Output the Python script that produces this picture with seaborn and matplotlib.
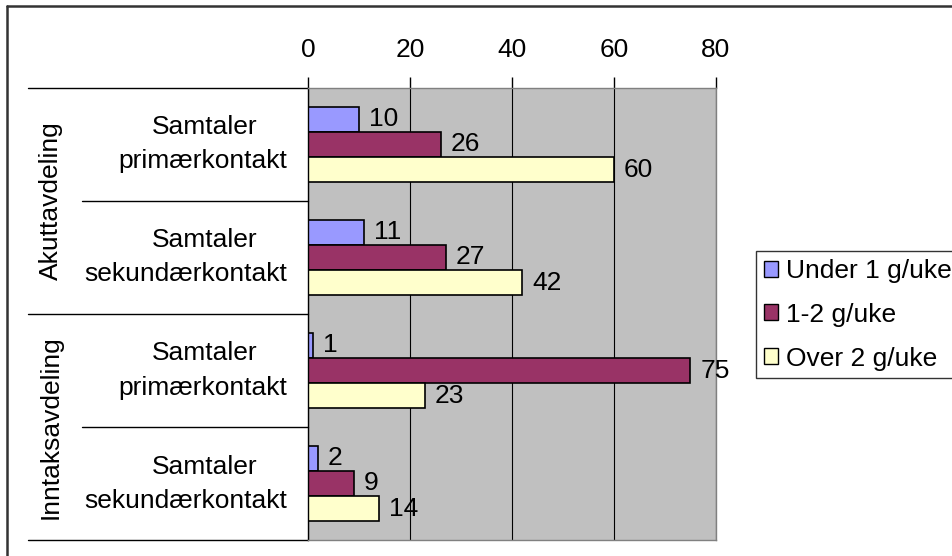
import matplotlib
matplotlib.use("Agg")
import matplotlib.pyplot as plt
import matplotlib.transforms as mtransforms
from matplotlib.patches import Patch
from matplotlib.lines import Line2D
import pandas as pd
import seaborn as sns

# data
groups = ["Akuttavdeling", "Inntaksavdeling"]
categories = ["Samtaler\nprimærkontakt", "Samtaler\nsekundærkontakt",
              "Samtaler\nprimærkontakt", "Samtaler\nsekundærkontakt"]
series = ["Under 1 g/uke", "1-2 g/uke", "Over 2 g/uke"]
under_1 = [10, 11, 1, 2]
one_two = [26, 27, 75, 9]
over_2 = [60, 42, 23, 14]
x_ticks = [0, 20, 40, 60, 80]

colors = ["#9999FF", "#993366", "#FFFFCC"]

keys = [f"{i}" for i in range(len(categories))]
rows = []
for name, vals in zip(series, [under_1, one_two, over_2]):
    for k, v in zip(keys, vals):
        rows.append({"cat": k, "serie": name, "value": v})
df = pd.DataFrame(rows)

sns.set_style("white")
plt.rcParams["font.family"] = ["Liberation Sans", "DejaVu Sans"]
plt.rcParams["text.color"] = "black"
plt.rcParams["xtick.color"] = "black"
plt.rcParams["xtick.labelcolor"] = "black"
FS = 19

W, H = 953, 556
fig = plt.figure(figsize=(W / 100, H / 100), dpi=100)
ax = fig.add_axes([308 / W, 1 - 540 / H, (716 - 308) / W, (540 - 88) / H])

sns.barplot(data=df, y="cat", x="value", hue="serie", order=keys,
            hue_order=series, palette=colors, orient="h", width=0.67,
            gap=0, edgecolor="black", linewidth=1.2, saturation=1,
            legend=False, ax=ax)

ax.set_facecolor("#C0C0C0")
ax.set_xlim(0, 80)
ax.set_ylim(len(keys) - 0.5, -0.5)
ax.set_xticks(x_ticks)
ax.xaxis.tick_top()
ax.tick_params(axis="x", direction="out", length=8, width=1, color="black",
               labelsize=FS, pad=11)
ax.set_yticks([])
ax.set_xlabel("")
ax.set_ylabel("")
ax.grid(axis="x", color="black", linewidth=0.8)
ax.set_axisbelow(True)
for s in ["top", "right", "bottom"]:
    ax.spines[s].set_color("#808080")
    ax.spines[s].set_linewidth(1)
ax.spines["left"].set_color("black")
ax.spines["left"].set_linewidth(1)

for c in ax.containers:
    ax.bar_label(c, padding=7, fontsize=FS, color="black")

# category axis labels and separators
trans = mtransforms.blended_transform_factory(fig.transFigure, ax.transData)
up = mtransforms.offset_copy(trans, fig=fig, y=17, units="dots")
down = mtransforms.offset_copy(trans, fig=fig, y=-17, units="dots")
for i, lab in enumerate(categories):
    first, second = lab.split("\n")
    ax.text(205 / W, i, first, transform=up, ha="center", va="center",
            fontsize=FS)
    ax.text(287 / W, i, second, transform=down, ha="right", va="center",
            fontsize=FS)
for i, g in enumerate(groups):
    ax.text(51 / W, 2 * i + 0.5, g, transform=trans, ha="center",
            va="center", rotation=90, fontsize=FS)
for b in [-0.5, 1.5, 3.5]:
    ax.add_line(Line2D([28 / W, 308 / W], [b, b], transform=trans,
                       color="black", linewidth=1, clip_on=False))
for b in [0.5, 2.5]:
    ax.add_line(Line2D([82 / W, 308 / W], [b, b], transform=trans,
                       color="black", linewidth=1, clip_on=False))

# legend
handles = [Patch(facecolor=c, edgecolor="black", linewidth=1) for c in colors]
leg = fig.legend(handles, series, loc="upper left",
                 bbox_to_anchor=(756 / W, 1 - 251 / H), borderaxespad=0,
                 fontsize=FS, frameon=True, fancybox=False,
                 handlelength=0.55, handleheight=0.55, handletextpad=0.3,
                 labelspacing=0.75, borderpad=0.3)
leg.get_frame().set_edgecolor("black")
leg.get_frame().set_linewidth(1)

# outer chart border
fig.add_artist(Line2D([7 / W, 7 / W], [0, 1 - 6 / H], transform=fig.transFigure,
                      color="#333333", linewidth=1.8))
fig.add_artist(Line2D([7 / W, 1], [1 - 6 / H, 1 - 6 / H], transform=fig.transFigure,
                      color="#333333", linewidth=1.8))

fig.savefig("out.png", dpi=100)
